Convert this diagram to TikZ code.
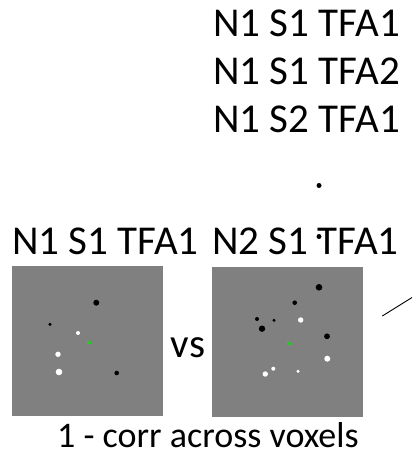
\documentclass[tikz,border=0pt]{standalone}
\usepackage{fontspec}
\setmainfont{Carlito}
\definecolor{stimgray}{RGB}{128,128,128}
\definecolor{fixgreen}{RGB}{40,200,40}

\begin{document}
\begin{tikzpicture}[
    x=1pt, y=-1pt,
    lbl/.style={inner sep=0pt, font=\fontsize{41}{49}\selectfont},
    stim/.style={rectangle, fill=stimgray, inner sep=0pt, minimum width=151pt, minimum height=150pt, anchor=north west}
]
    \clip (0,0) rectangle (412,470);

    % list of condition pairs
    \node[lbl, anchor=base east] (pairA) at (400,37) {N1 S1 TFA1};
    \node[lbl, anchor=base east] (pairB) at (400,85) {N1 S1 TFA2};
    \node[lbl, anchor=base east] (pairC) at (400,133) {N1 S2 TFA1};
    \fill (319,185.5) circle (2.5pt);
    \fill (319,236.5) circle (2.5pt);

    % the two stimuli being compared
    \node[stim] (stimA) at (12,266) {};
    \node[stim] (stimB) at (212,267) {};
    \node[lbl, anchor=base west] (nameA) at (12,254) {N1 S1 TFA1};
    \node[lbl, anchor=base west] (nameB) at (212,254) {N2 S1 TFA1};
    \node[lbl, anchor=base] (vs) at (188,357) {vs};

    % dots on the first stimulus
    \foreach \dx/\dy/\r in {84.3/36.7/3, 38/58.3/1.7, 104.7/107/2.3}
        \fill[black] ([shift={(\dx,\dy)}]stimA.north west) circle (\r pt);
    \foreach \dx/\dy/\r in {66/67/2, 46/88.3/2.7, 47/106/3.3}
        \fill[white] ([shift={(\dx,\dy)}]stimA.north west) circle (\r pt);
    \fill[fixgreen] ([shift={(77,76.7)}]stimA.north west) ++(-1.6,-1.6) rectangle ++(3.2,3.2);

    % dots on the second stimulus
    \foreach \dx/\dy/\r in {107/20.3/3.3, 82.7/35.7/2.3, 45/52/2, 62/53.3/1.7, 50/61.7/3.2, 115/69.3/2.9}
        \fill[black] ([shift={(\dx,\dy)}]stimB.north west) circle (\r pt);
    \foreach \dx/\dy/\r in {88.7/53/2.7, 115.3/91.7/3, 61.3/101.7/2, 53.3/107/2.7, 86/104.3/1.7}
        \fill[white] ([shift={(\dx,\dy)}]stimB.north west) circle (\r pt);
    \fill[fixgreen] ([shift={(77,76.7)}]stimB.north west) ++(-1.6,-1.6) rectangle ++(3.2,3.2);

    % distance measure
    \node[lbl, anchor=base west, font=\fontsize{36}{43}\selectfont] (dist) at (57,447) {1 - corr across voxels};

    \coordinate (lineS) at (382.3,316);
    \coordinate (lineE) at (412,297.5);
    \draw[line width=0.9pt] (lineS) -- (lineE);
\end{tikzpicture}
\end{document}
